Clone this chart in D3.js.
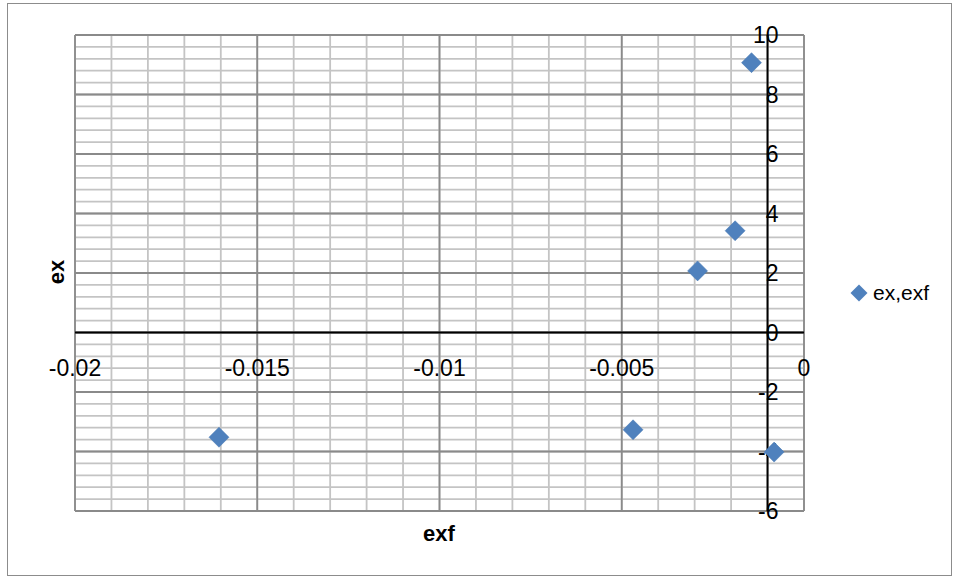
<!DOCTYPE html>
<html><head><meta charset="utf-8">
<script src="https://cdn.jsdelivr.net/npm/d3@7"></script>
<style>body{margin:0;background:#fff}svg{display:block}</style>
</head><body>
<svg id="c" width="955" height="579"></svg>
<script>
const seriesName = "ex,exf";
const exfValues = [-0.01605, -0.00469, -0.00292, -0.00189, -0.00144, -0.00082];
const exValues  = [-3.52, -3.27, 2.07, 3.42, 9.07, -4.02];
const xTicks = [-0.02, -0.015, -0.01, -0.005, 0];
const xTickLabels = ["-0.02", "-0.015", "-0.01", "-0.005", "0"];
const yTicks = [-6, -4, -2, 0, 2, 4, 6, 8, 10];
const yTickLabels = ["-6", "-4", "-2", "0", "2", "4", "6", "8", "10"];
const xTitle = "exf", yTitle = "ex";

const svg = d3.select("#c");
const L = 75, R = 804, T = 35, B = 511;
const x = d3.scaleLinear().domain([-0.02, 0]).range([L, R]);
const y = d3.scaleLinear().domain([-6, 10]).range([B, T]);
const font = "'Liberation Sans', Arial, sans-serif";

svg.append("rect").attr("x", 7.5).attr("y", 3.5).attr("width", 944).attr("height", 572)
  .attr("fill", "#fff").attr("stroke", "#8c8c8c").attr("stroke-width", 1);

const g = svg.append("g");
// minor grid
const xMinor = d3.range(0, 21).map(i => -0.02 + i * 0.001);
const yMinor = d3.range(0, 41).map(i => -6 + i * 0.4);
g.selectAll(".vm").data(xMinor).join("line")
  .attr("x1", d => x(d)).attr("x2", d => x(d)).attr("y1", T).attr("y2", B)
  .attr("stroke", "#c4c4c4").attr("stroke-width", 1.8);
g.selectAll(".hm").data(yMinor).join("line")
  .attr("y1", d => y(d)).attr("y2", d => y(d)).attr("x1", L).attr("x2", R)
  .attr("stroke", "#c4c4c4").attr("stroke-width", 1.8);
// major grid
g.selectAll(".vM").data(xTicks).join("line")
  .attr("x1", d => x(d)).attr("x2", d => x(d)).attr("y1", T).attr("y2", B)
  .attr("stroke", "#8a8a8a").attr("stroke-width", 1.8);
g.selectAll(".hM").data(yTicks).join("line")
  .attr("y1", d => y(d)).attr("y2", d => y(d)).attr("x1", L).attr("x2", R)
  .attr("stroke", "#8a8a8a").attr("stroke-width", 1.8);

// axes lines
const yAxisX = x(-0.001);
svg.append("line").attr("x1", L).attr("x2", R).attr("y1", y(0)).attr("y2", y(0))
  .attr("stroke", "#000").attr("stroke-width", 2);
svg.append("line").attr("x1", yAxisX).attr("x2", yAxisX).attr("y1", T).attr("y2", B)
  .attr("stroke", "#000").attr("stroke-width", 2);

// tick labels
svg.selectAll(".xl").data(xTicks).join("text")
  .attr("x", d => x(d)).attr("y", 368).attr("dy", "0.35em")
  .attr("text-anchor", "middle").attr("font-family", font).attr("font-size", 23)
  .text((d, i) => xTickLabels[i]);
svg.selectAll(".yl").data(yTicks).join("text")
  .attr("x", yAxisX + 11).attr("y", d => y(d)).attr("dy", "0.35em")
  .attr("text-anchor", "end").attr("font-family", font).attr("font-size", 23)
  .text((d, i) => yTickLabels[i]);

// titles
svg.append("text").attr("x", 439).attr("y", 541).attr("text-anchor", "middle")
  .attr("font-family", font).attr("font-weight", "bold").attr("font-size", 22).text(xTitle);
svg.append("text").attr("transform", "translate(64,272) rotate(-90)").attr("text-anchor", "middle")
  .attr("font-family", font).attr("font-weight", "bold").attr("font-size", 22).text(yTitle);

// points
const sq = d3.symbol().type(d3.symbolSquare).size(200);
svg.selectAll(".pt").data(exfValues.map((v, i) => [v, exValues[i]])).join("path")
  .attr("d", sq).attr("transform", d => `translate(${x(d[0])},${y(d[1])}) rotate(45)`)
  .attr("fill", "#4f81bd").attr("stroke", "#4a7ab3").attr("stroke-width", 0.5);

// legend
svg.append("path").attr("d", d3.symbol().type(d3.symbolSquare).size(144))
  .attr("transform", "translate(859,293) rotate(45)").attr("fill", "#4f81bd");
svg.append("text").attr("x", 873).attr("y", 300).attr("font-family", font).attr("font-size", 21)
  .text(seriesName);
</script>
</body></html>
